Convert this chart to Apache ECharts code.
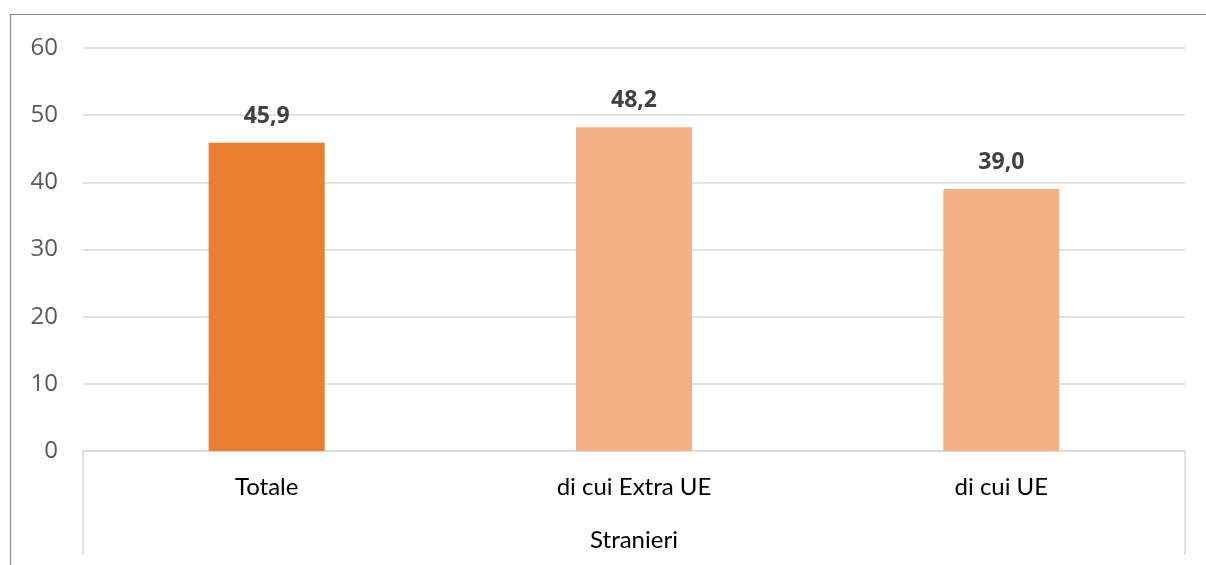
<!DOCTYPE html>
<html>
<head>
<meta charset="utf-8">
<script src="https://cdn.jsdelivr.net/npm/echarts@6/dist/echarts.min.js"></script>
<style>
html,body{margin:0;padding:0;background:#fff;}
#chart{width:1206px;height:565px;}
</style>
</head>
<body>
<div id="chart"></div>
<script>
const categories = ['Totale', 'di cui Extra UE', 'di cui UE'];
const groupLabels = ['Stranieri'];
const values = [45.9, 48.2, 39.0];
const barColors = ['#ED7D31', '#F4B183', '#F4B183'];
const yTicks = {min: 0, max: 60, interval: 10};

const chart = echarts.init(document.getElementById('chart'));
chart.setOption({
  animation: false,
  backgroundColor: '#ffffff',
  graphic: [{
    type: 'rect',
    shape: {x: 10.5, y: 14.5, width: 1300, height: 700},
    style: {fill: 'none', stroke: '#8c8c8c', lineWidth: 1.2},
    silent: true, z: 0
  }],
  grid: {left: 83, right: 21, top: 48, bottom: 114, containLabel: false},
  xAxis: [{
    type: 'category',
    data: categories,
    position: 'bottom',
    axisLine: {show: true, lineStyle: {color: '#d9d9d9', width: 1.5}},
    axisTick: {show: false},
    axisLabel: {color: '#000000', fontSize: 24, fontFamily: 'Lato', margin: 24}
  }, {
    type: 'category',
    data: groupLabels,
    position: 'bottom',
    offset: 0,
    axisLine: {show: false},
    axisTick: {show: true, length: 104, lineStyle: {color: '#d9d9d9', width: 1.5}},
    axisLabel: {color: '#000000', fontSize: 24, fontFamily: 'Lato', margin: 77},
    splitLine: {show: false}
  }],
  yAxis: {
    type: 'value',
    min: yTicks.min, max: yTicks.max, interval: yTicks.interval,
    axisLine: {show: false},
    axisTick: {show: false},
    axisLabel: {color: '#595959', fontSize: 24, fontFamily: 'Open Sans', margin: 25},
    splitLine: {lineStyle: {color: '#d9d9d9', width: 1.5}}
  },
  series: [{
    type: 'bar',
    xAxisIndex: 0,
    barWidth: 116,
    data: values.map((v, i) => ({value: v, itemStyle: {color: barColors[i]}})),
    label: {
      show: true,
      position: 'top',
      distance: 15,
      color: '#404040',
      fontSize: 23,
      fontWeight: 'bold',
      fontFamily: 'Open Sans',
      formatter: p => p.value.toFixed(1).replace('.', ',')
    }
  }]
});
</script>
</body>
</html>
